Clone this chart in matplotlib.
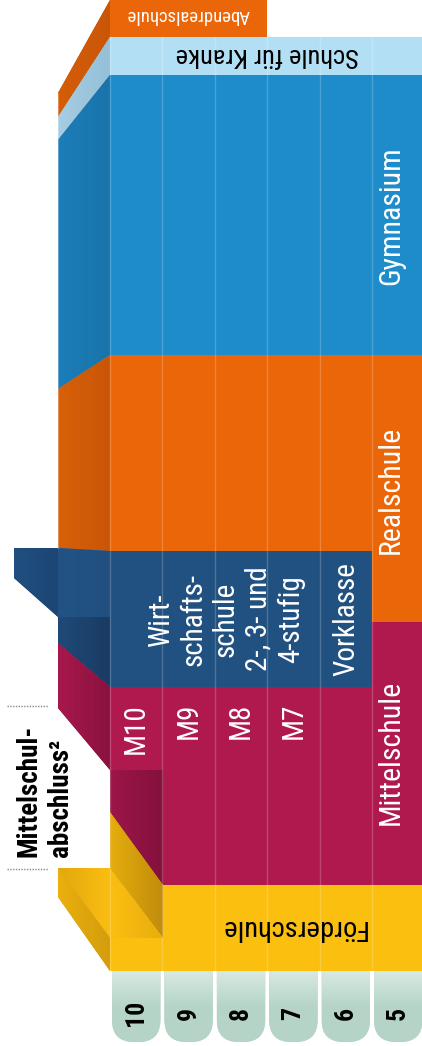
import numpy as np
import matplotlib
matplotlib.use('Agg')
import matplotlib.pyplot as plt
from matplotlib import font_manager
from matplotlib.patches import Polygon, FancyBboxPatch, Rectangle
from matplotlib.colors import LinearSegmentedColormap

# grade columns, left to right
grades = ['10', '9', '8', '7', '6', '5']

# front faces of the blocks: school, first column, end column, top, bottom
front_school = ['Abendrealschule', 'Schule für Kranke', 'Gymnasium', 'Realschule',
                'Mittelschule', 'Wirtschaftsschule', 'Förderschule', 'Förderschule']
front_col0 = [0, 0, 0, 0, 0, 0, 1, 0]
front_col1 = [3, 6, 6, 6, 6, 5, 6, 1]
front_top = [0, 37, 75, 355, 622, 551, 885, 938]
front_bottom = [37, 75, 355, 622, 885, 687, 971, 971]

# Mittelschule grade labels
m_labels = ['M10', 'M9', 'M8', 'M7']
wirt_text = 'Wirt-\nschafts-\nschule\n2-, 3- und\n4-stufig'

colors = {
    'Abendrealschule': '#ea6609',
    'Schule für Kranke': '#b3dff5',
    'Gymnasium': '#1e8bcb',
    'Realschule': '#ea6609',
    'Wirtschaftsschule': '#215180',
    'Mittelschule': '#b0194e',
    'Förderschule': '#fbbf10',
}

X0 = 110      # left edge of front faces
CW = 52.4     # column width

# pick a condensed font if there is one
avail = {f.name for f in font_manager.fontManager.ttflist}
FONT = next((f for f in ['Roboto Condensed', 'Liberation Sans Narrow'] if f in avail), 'Roboto')


def col_x(c):
    return X0 + c * CW


def shaded(ax, pts, cols, z=2, vertical=False):
    poly = Polygon(pts, closed=True, facecolor=cols[-1], edgecolor='none', zorder=z)
    ax.add_patch(poly)
    xs = [p[0] for p in pts]
    ys = [p[1] for p in pts]
    cmap = LinearSegmentedColormap.from_list('g', cols)
    grad = np.linspace(0, 1, 64)
    grad = grad.reshape(-1, 1) if vertical else grad.reshape(1, -1)
    im = ax.imshow(grad, cmap=cmap, extent=(min(xs), max(xs), max(ys), min(ys)),
                   aspect='auto', zorder=z, interpolation='bilinear')
    im.set_clip_path(poly)
    return poly


fig = plt.figure(figsize=(4.22, 10.46), dpi=100)
ax = fig.add_axes([0, 0, 1, 1])
ax.axis('off')

# grade tabs at the bottom
for i, g in enumerate(grades):
    x = col_x(i) + 2
    w = CW - 4
    tab = FancyBboxPatch((x, 930), w, 1042 - 930, boxstyle='round,pad=0,rounding_size=22',
                         facecolor='#b5d4c7', edgecolor='none', zorder=1)
    ax.add_patch(tab)
    cmap = LinearSegmentedColormap.from_list('t', ['#d8e9e2', '#b5d4c7', '#b5d4c7'])
    im = ax.imshow(np.linspace(0, 1, 64).reshape(-1, 1), cmap=cmap,
                   extent=(x, x + w, 1042, 971), aspect='auto', zorder=1)
    im.set_clip_path(tab)
    ax.text(x + w / 2, 1013, g, rotation=90, ha='center', va='center',
            fontsize=18.5, fontweight='bold', family=FONT, color='black', zorder=6)

# front faces
for s, c0, c1, t, b in zip(front_school, front_col0, front_col1, front_top, front_bottom):
    ax.add_patch(Rectangle((col_x(c0), t), col_x(c1) - col_x(c0), b - t,
                           facecolor=colors[s], edgecolor='none', zorder=3))

# side faces (3d look)
shaded(ax, [(58, 93), (110, 0), (110, 37), (58, 117)], ['#d65d08', '#c95607'])
shaded(ax, [(58, 117), (110, 37), (110, 75), (58, 140)], ['#a6cde2', '#94c0d8'])
shaded(ax, [(58, 140), (110, 75), (110, 355), (58, 389)], ['#1c7db9', '#1a74aa'])
shaded(ax, [(58, 389), (110, 355), (110, 551), (58, 548)], ['#d86008', '#c95607'])
shaded(ax, [(14, 548), (58, 548), (58, 617), (14, 578)], ['#1f4f80', '#1c4674'])
shaded(ax, [(58, 548), (110, 551), (110, 617), (58, 617)], ['#225384', '#215080'])
shaded(ax, [(58, 617), (110, 617), (110, 687), (58, 643)], ['#1f4a78', '#1a3b63'])
shaded(ax, [(58, 643), (110, 687), (110, 770), (58, 708)], ['#a8184c', '#8a1240'])
# step between Mittelschule and Förderschule
shaded(ax, [(110, 770), (163, 770), (163, 885), (110, 812)], ['#9c1649', '#84103d'], z=4)
shaded(ax, [(110, 812), (163, 885), (163, 938), (110, 868)], ['#e6ad0e', '#c18c0b'], z=4)
shaded(ax, [(58, 868), (110, 868), (163, 938), (110, 938)], ['#e2a80d', '#fbbe12', '#e9ae0e'], z=4)
shaded(ax, [(58, 868), (110, 938), (110, 971), (58, 897)], ['#e9b00e', '#d49d0c'], z=4)

# column separators
for i in range(7):
    ax.plot([col_x(i), col_x(i)], [37, 971], color='white', alpha=0.2, lw=1, zorder=5)
ax.plot([58, 58], [93, 548], color='white', alpha=0.3, lw=0.8, zorder=5)

# block labels
big = dict(family=FONT, fontsize=21.5, color='white', zorder=6)
ax.text(391, 216, 'Gymnasium', rotation=90, ha='center', va='center', **big)
ax.text(391, 490, 'Realschule', rotation=90, ha='center', va='center', **big)
ax.text(391, 752, 'Mittelschule', rotation=90, ha='center', va='center', **big)
ax.text(188, 15, 'Abendrealschule', rotation=180, ha='center', va='center',
        family=FONT, fontsize=13.5, color='white', zorder=6)
ax.text(267, 55, 'Schule für Kranke', rotation=180, ha='center', va='center',
        family=FONT, fontsize=19, color='black', zorder=6)
ax.text(293, 927, 'Förderschule', rotation=180, ha='center', va='center',
        family=FONT, fontsize=20.5, color='black', zorder=6)
for i, m in enumerate(m_labels):
    ax.text(col_x(i) + CW / 2, 703, m, rotation=90, ha='center', va='top',
            family=FONT, fontsize=21, color='white', zorder=6)
ax.text(226, 619, wirt_text, rotation=90, ha='center', va='center', multialignment='center',
        linespacing=1.2, family=FONT, fontsize=21, color='white', zorder=6)
ax.text(346, 619, 'Vorklasse', rotation=90, ha='center', va='center',
        family=FONT, fontsize=21, color='white', zorder=6)

# Mittelschulabschluss marker
ax.plot([7, 48], [706, 706], color='#888888', lw=1, ls=(0, (1, 1)), zorder=6)
ax.plot([7, 48], [869, 869], color='#888888', lw=1, ls=(0, (1, 1)), zorder=6)
ax.text(45, 857, 'Mittelschul-\nabschluss²', rotation=90, ha='center', va='bottom',
        multialignment='left', linespacing=1.2, family=FONT, fontsize=19.5,
        fontweight='bold', color='black', zorder=6)

ax.set_xlim(0, 422)
ax.set_ylim(1046, 0)
fig.savefig('out.png', dpi=100, facecolor='white')
